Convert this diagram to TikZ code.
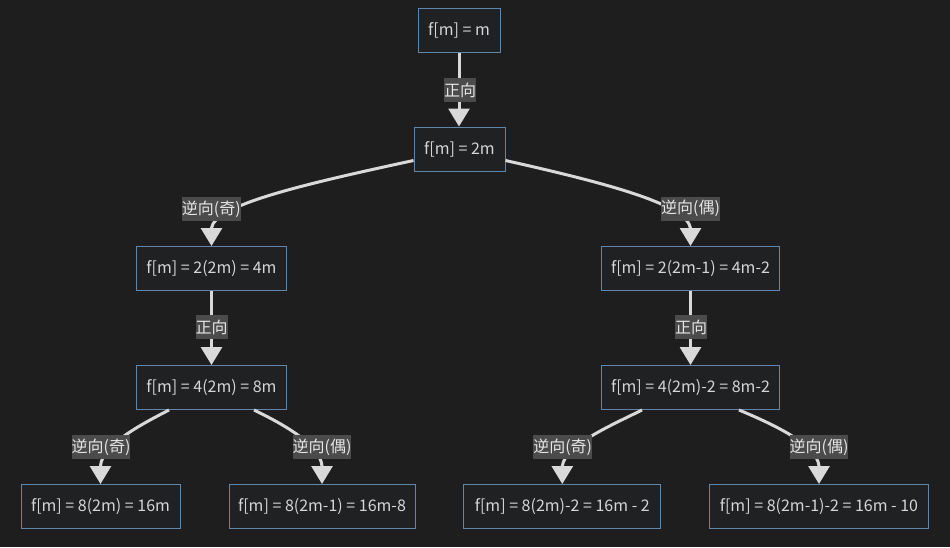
\documentclass[tikz,border=0pt]{standalone}
\usepackage{fontspec}
\setmainfont{Noto Sans CJK SC}
\usetikzlibrary{arrows.meta,calc}
\definecolor{bg}{HTML}{1E1E1E}
\definecolor{boxfill}{HTML}{1F2122}
\definecolor{boxline}{HTML}{6186AB}
\definecolor{boxtext}{HTML}{D6D6D6}
\definecolor{edgecol}{HTML}{D9D9D9}
\definecolor{lblbg}{HTML}{4B4B4B}
\definecolor{lbltext}{HTML}{E6E6E6}
\begin{document}
\begin{tikzpicture}[x=1pt,y=-1pt,
  box/.style={draw=boxline, fill=boxfill, line width=1pt, text=boxtext,
    minimum height=44pt, inner xsep=3pt, font=\fontsize{16}{19}\selectfont},
  lbl/.style={fill=lblbg, text=lbltext, inner xsep=0pt, inner ysep=0pt,
    minimum height=24pt, font=\fontsize{16}{19}\selectfont},
  link/.style={draw=edgecol, line width=3pt, -{Triangle[width=21pt,length=18pt]}}]
\fill[bg] (0,0) rectangle (950,547);

% boxes
\node[box, minimum width=82pt]  (n0) at (459,30)      {f[m] = m};
\node[box, minimum width=91pt]  (n1) at (459.5,149)   {f[m] = 2m};
\node[box, minimum width=150pt] (n2) at (211.5,268.5) {f[m] = 2(2m) = 4m};
\node[box, minimum width=178pt] (n3) at (690.5,268.5) {f[m] = 2(2m-1) = 4m-2};
\node[box, minimum width=150pt] (n4) at (211.5,387.5) {f[m] = 4(2m) = 8m};
\node[box, minimum width=178pt] (n5) at (690.5,387.5) {f[m] = 4(2m)-2 = 8m-2};
\node[box, minimum width=159pt] (n6) at (100.5,506.5) {f[m] = 8(2m) = 16m};
\node[box, minimum width=186pt] (n7) at (322,506.5)   {f[m] = 8(2m-1) = 16m-8};
\node[box, minimum width=197pt] (n8) at (562.3,506.5) {f[m] = 8(2m)-2 = 16m - 2};
\node[box, minimum width=219pt] (n9) at (819,506.5)   {f[m] = 8(2m-1)-2 = 16m - 10};

% connectors
\draw[link] (n0.south) -- (n0.south |- n1.north);
\draw[link] ($(n1.south west)+(0,-11)$) .. controls (300,185) and (215,205)
  .. ($(n2.north)+(0,-18)$) -- (n2.north);
\draw[link] ($(n1.south east)+(0,-11)$) .. controls (615,185) and (686,205)
  .. ($(n3.north)+(0,-18)$) -- (n3.north);
\draw[link] (n2.south) -- (n4.north);
\draw[link] (n3.south) -- (n5.north);
\draw[link] ($(n4.south west)+(33,0)$) .. controls (140,425) and (102,445)
  .. ($(n6.north)+(0,-18)$) -- (n6.north);
\draw[link] ($(n4.south east)+(-33,0)$) .. controls (285,425) and (320,445)
  .. ($(n7.north)+(0,-18)$) -- (n7.north);
\draw[link] ($(n5.south west)+(41,0)$) .. controls (612,425) and (565,445)
  .. ($(n8.north)+(0,-18)$) -- (n8.north);
\draw[link] ($(n5.south east)+(-41,0)$) .. controls (775,425) and (817,445)
  .. ($(n9.north)+(0,-18)$) -- (n9.north);

% edge labels
\node[lbl] (l01) at (460,90)    {正向};
\node[lbl] (l12) at (211.3,209) {逆向(奇)};
\node[lbl] (l13) at (690.5,208.5) {逆向(偶)};
\node[lbl] (l24) at (211.5,327) {正向};
\node[lbl] (l35) at (691,327)   {正向};
\node[lbl] (l46) at (101,447)   {逆向(奇)};
\node[lbl] (l47) at (322,447)   {逆向(偶)};
\node[lbl] (l58) at (562.7,447) {逆向(奇)};
\node[lbl] (l59) at (819,447)   {逆向(偶)};
\end{tikzpicture}
\end{document}
